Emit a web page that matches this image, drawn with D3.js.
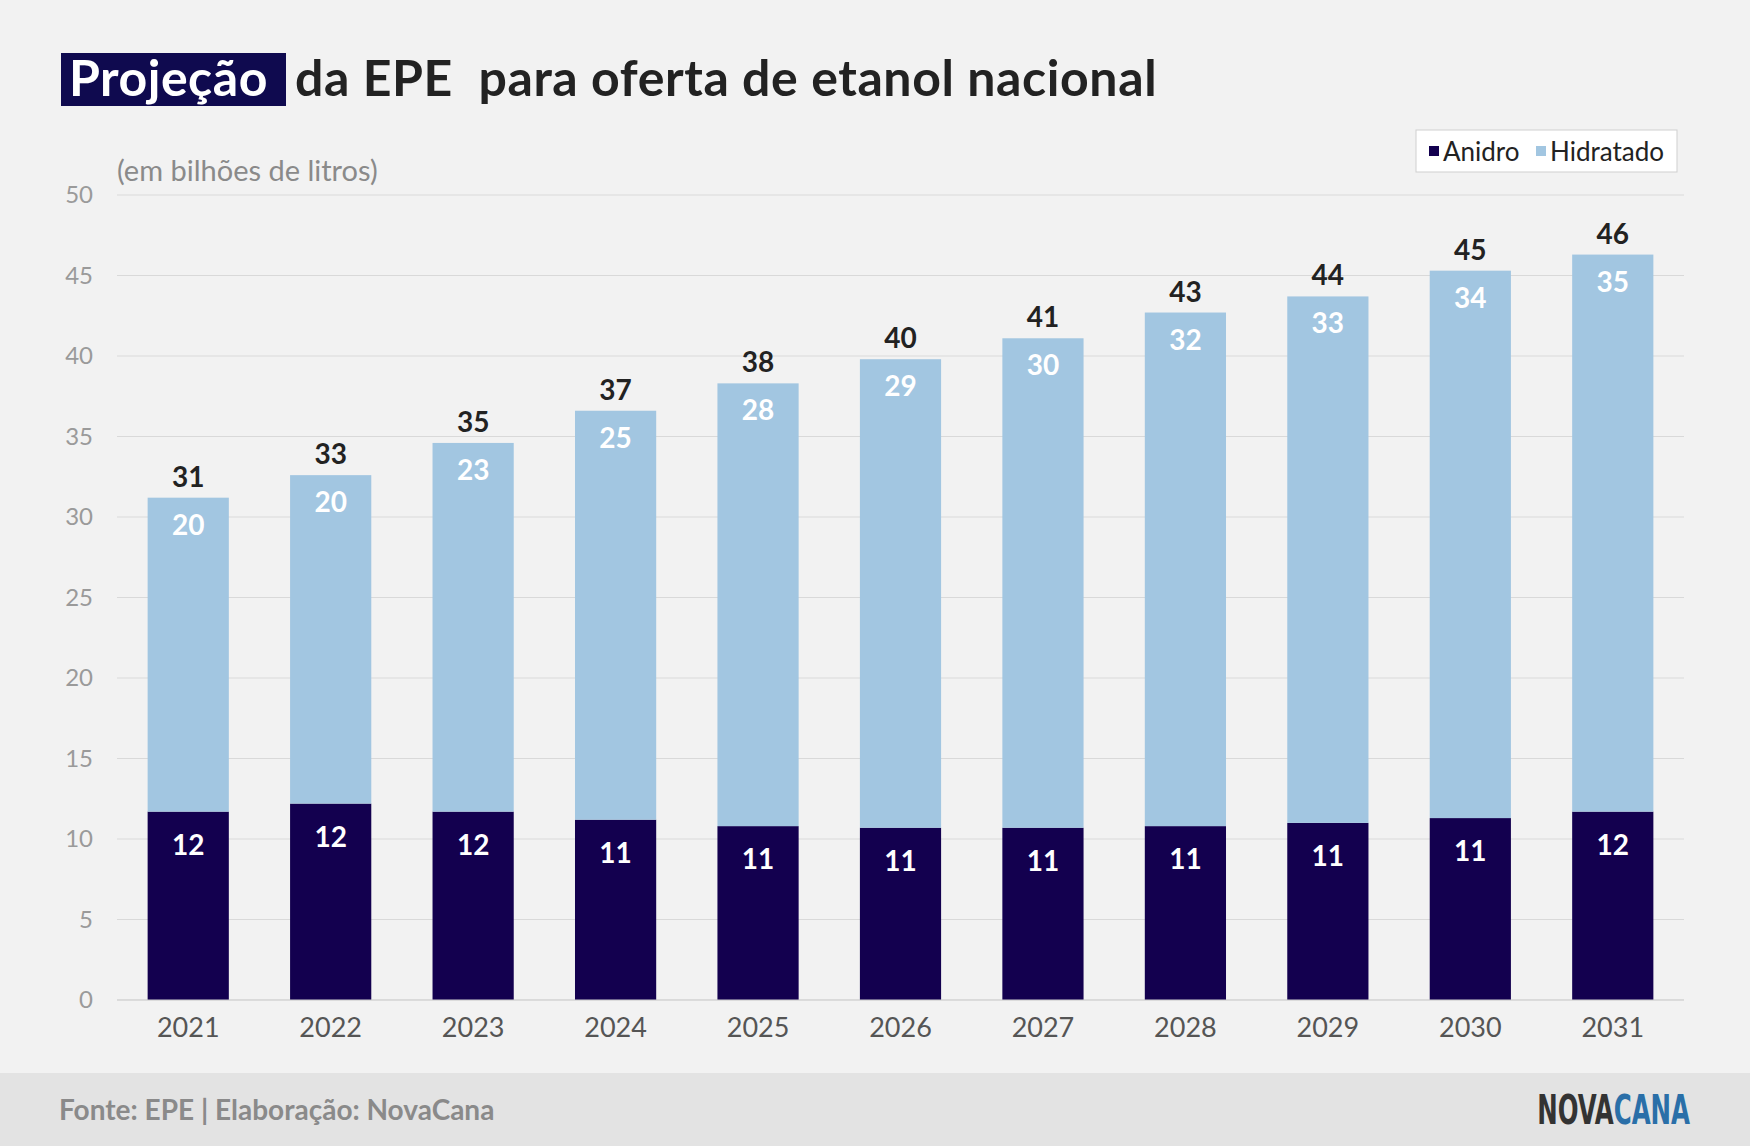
<!DOCTYPE html>
<html>
<head>
<meta charset="utf-8">
<script src="https://d3js.org/d3.v7.min.js"></script>
<style>body{margin:0;background:#f2f2f2;font-family:Lato,"Open Sans",sans-serif;}</style>
</head>
<body>
<div id="chart"></div>
<script>
// dados
let anos = ["2021","2022","2023","2024","2025","2026","2027","2028","2029","2030","2031"];
let anidro = [11.7, 12.2, 11.7, 11.2, 10.8, 10.7, 10.7, 10.8, 11.0, 11.3, 11.7];
let hidratado = [19.5, 20.4, 22.9, 25.4, 27.5, 29.1, 30.4, 31.9, 32.7, 34.0, 34.6];
let yTicks = [0,5,10,15,20,25,30,35,40,45,50];

let W = 1750, H = 1146;
let margin = {top: 195, right: 66, bottom: 146, left: 117};
let w = W - margin.left - margin.right;
let h = H - margin.top - margin.bottom;

let svg = d3.select("#chart").append("svg").attr("width", W).attr("height", H);
svg.append("rect").attr("width", W).attr("height", H).attr("fill", "#f2f2f2");
svg.append("rect").attr("y", 1073).attr("width", W).attr("height", H - 1073).attr("fill", "#e3e3e3");

// título
svg.append("rect").attr("x", 61).attr("y", 53).attr("width", 225).attr("height", 53).attr("fill", "#0f0a4f");
svg.append("text").attr("x", 69).attr("y", 96).attr("font-size", 50).attr("font-weight", 700).attr("fill", "#fff")
    .attr("letter-spacing", 0.5).text("Projeção");
svg.append("text").attr("x", 295).attr("y", 96).attr("font-size", 50).attr("font-weight", 700).attr("fill", "#222")
    .attr("letter-spacing", 0.6).attr("xml:space", "preserve").text("da EPE  para oferta de etanol nacional");

svg.append("text").attr("x", 117).attr("y", 181).attr("font-size", 29).attr("fill", "#8a8a8a").text("(em bilhões de litros)");

let g = svg.append("g").attr("transform", "translate(" + margin.left + "," + margin.top + ")");

let x = d3.scaleBand().domain(anos).range([0, w]).paddingInner(0.43).paddingOuter(0.215);
let y = d3.scaleLinear().domain([0, 50]).range([h, 0]);

g.selectAll(".grid").data(yTicks).enter().append("line")
    .attr("x1", 0).attr("x2", w).attr("y1", d => y(d)).attr("y2", d => y(d))
    .attr("stroke", "#d9d9d9").attr("stroke-width", 1.2);

g.selectAll(".ylab").data(yTicks).enter().append("text")
    .attr("x", -24).attr("y", d => y(d)).attr("dy", "0.35em").attr("text-anchor", "end")
    .attr("font-size", 24).attr("fill", "#9a9a9a").text(d => d);

let dados = anos.map((a, i) => ({ano: a, an: anidro[i], hi: hidratado[i]}));

g.selectAll(".an").data(dados).enter().append("rect")
    .attr("x", d => x(d.ano)).attr("width", x.bandwidth())
    .attr("y", d => y(d.an)).attr("height", d => h - y(d.an)).attr("fill", "#13004f");
g.selectAll(".hi").data(dados).enter().append("rect")
    .attr("x", d => x(d.ano)).attr("width", x.bandwidth())
    .attr("y", d => y(d.an + d.hi)).attr("height", d => y(d.an) - y(d.an + d.hi)).attr("fill", "#a2c6e1");

g.append("line").attr("x1", 0).attr("x2", w).attr("y1", h).attr("y2", h).attr("stroke", "#cfcfcf");

let cx = d => x(d.ano) + x.bandwidth() / 2;
g.selectAll(".lan").data(dados).enter().append("text")
    .attr("x", cx).attr("y", d => y(d.an) + 43).attr("text-anchor", "middle")
    .attr("font-size", 28).attr("font-weight", 700).attr("fill", "#fff").text(d => Math.round(d.an));
g.selectAll(".lhi").data(dados).enter().append("text")
    .attr("x", cx).attr("y", d => y(d.an + d.hi) + 37).attr("text-anchor", "middle")
    .attr("font-size", 28).attr("font-weight", 700).attr("fill", "#fff").text(d => Math.round(d.hi));
g.selectAll(".ltot").data(dados).enter().append("text")
    .attr("x", cx).attr("y", d => y(d.an + d.hi) - 11).attr("text-anchor", "middle")
    .attr("font-size", 28).attr("font-weight", 700).attr("fill", "#222").text(d => Math.round(d.an + d.hi));

g.selectAll(".xlab").data(anos).enter().append("text")
    .attr("x", d => x(d) + x.bandwidth() / 2).attr("y", h + 37).attr("text-anchor", "middle")
    .attr("font-size", 27).attr("fill", "#555").text(d => d);

// legenda
svg.append("rect").attr("x", 1416).attr("y", 130).attr("width", 261).attr("height", 42)
    .attr("fill", "#fff").attr("stroke", "#cfcfcf");
svg.append("rect").attr("x", 1429).attr("y", 146).attr("width", 10).attr("height", 10).attr("fill", "#13004f");
svg.append("text").attr("x", 1443).attr("y", 161).attr("font-size", 26).attr("fill", "#222").text("Anidro");
svg.append("rect").attr("x", 1536).attr("y", 146).attr("width", 10).attr("height", 10).attr("fill", "#a2c6e1");
svg.append("text").attr("x", 1550).attr("y", 161).attr("font-size", 26).attr("fill", "#222").text("Hidratado");

// rodapé
svg.append("text").attr("x", 59).attr("y", 1120).attr("font-size", 28).attr("font-weight", 700).attr("fill", "#8a8a8a")
    .text("Fonte: EPE | Elaboração: NovaCana");
let logo = svg.append("text").attr("transform", "translate(1690,1124) scale(0.68,1)").attr("text-anchor", "end")
    .attr("font-size", 40).attr("font-weight", 700)
    .attr("font-family", "'Liberation Sans Narrow','DejaVu Sans Condensed',sans-serif");
logo.append("tspan").attr("fill", "#333").text("NOVA");
logo.append("tspan").attr("fill", "#2a6fa8").text("CANA");
</script>
</body>
</html>
